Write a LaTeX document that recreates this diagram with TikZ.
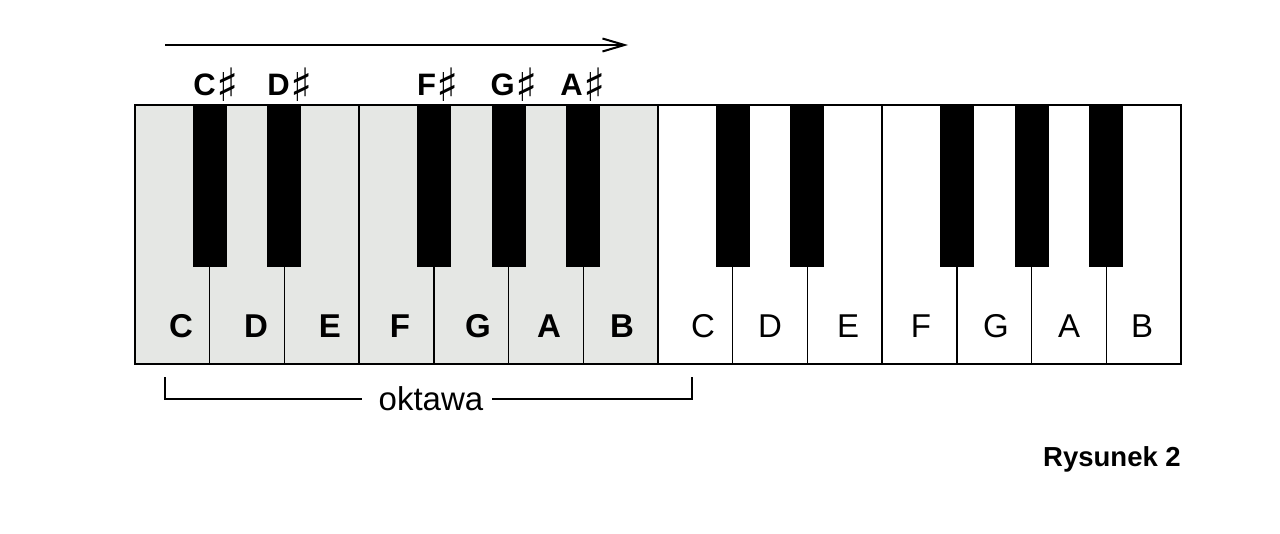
\documentclass[tikz,border=0pt]{standalone}
\usepackage{fontspec}
\setmainfont{Liberation Sans}
\newfontfamily\symfont{DejaVu Sans}
\usetikzlibrary{arrows.meta}
\definecolor{octfill}{RGB}{229,231,228}
\newcommand{\shp}{\kern0.5pt{\symfont\fontsize{46}{46}\selectfont\mdseries\raisebox{-6pt}{♯}}}
\begin{document}
\begin{tikzpicture}[x=1pt,y=-1pt,
  sepline/.style={draw=black,line width=1.4pt},
  border/.style={draw=black,line width=1.8pt},
  blackkey/.style={fill=black},
  boldlab/.style={font=\fontsize{33}{33}\selectfont\bfseries,inner sep=0pt,anchor=base},
  plainlab/.style={font=\fontsize{33}{33}\selectfont,inner sep=0pt,anchor=base},
  sharplab/.style={font=\fontsize{31}{31}\selectfont\bfseries,inner sep=0pt,anchor=base},
  bracket/.style={draw=black,line width=1.6pt},
  arrowline/.style={draw=black,line width=2pt,-{Straight Barb[length=22pt,width=13pt,line width=2pt]}}]
\useasboundingbox (0,0) rectangle (1280,533);
\def\kw{74.714}
% octave shading
\fill[octfill] (135,105) rectangle (657,364);
% white key separators
\foreach \i in {1,...,13} \draw[sepline] ({135+\i*\kw},105) -- ({135+\i*\kw},364);
% black keys
\foreach \o in {0,1}
  \foreach \p in {1,2,4,5,6}
    \fill[blackkey] ({135+(7*\o+\p)*\kw-17},105) rectangle ({135+(7*\o+\p)*\kw+17},267);
\draw[border] (135,105) rectangle (1181,364);
% white key labels (first octave bold)
\node[boldlab] (c1) at (181,337) {C};
\node[boldlab] (d1) at (256,337) {D};
\node[boldlab] (e1) at (330,337) {E};
\node[boldlab] (f1) at (400,337) {F};
\node[boldlab] (g1) at (478,337) {G};
\node[boldlab] (a1) at (549,337) {A};
\node[boldlab] (b1) at (622,337) {B};
\node[plainlab] (c2) at (703,337) {C};
\node[plainlab] (d2) at (770,337) {D};
\node[plainlab] (e2) at (848,337) {E};
\node[plainlab] (f2) at (921,337) {F};
\node[plainlab] (g2) at (996,337) {G};
\node[plainlab] (a2) at (1069,337) {A};
\node[plainlab] (b2) at (1142,337) {B};
% sharp labels
\node[sharplab] (cs) at (216,95) {C\shp};
\node[sharplab] (ds) at (290,95) {D\shp};
\node[sharplab] (fs) at (438,95) {F\shp};
\node[sharplab] (gs) at (514,95) {G\shp};
\node[sharplab] (as) at (583,95) {A\shp};
% arrow
\coordinate (arrA) at (165,45);
\coordinate (arrB) at (628,45);
\draw[arrowline] (arrA) -- (arrB);
% octave bracket
\node[font=\fontsize{33}{33}\selectfont,inner sep=0pt,anchor=base] (okt) at (431,410) {oktawa};
\coordinate (bl) at (165,377);
\coordinate (br) at (692,377);
\coordinate (bll) at (362,399);
\coordinate (brr) at (492,399);
\draw[bracket] (bl) |- (bll);
\draw[bracket] (br) |- (brr);
% caption
\node[font=\fontsize{27.5}{27.5}\selectfont\bfseries,inner sep=0pt,anchor=base east] (rys) at (1181,466) {Rysunek 2};
\end{tikzpicture}
\end{document}
